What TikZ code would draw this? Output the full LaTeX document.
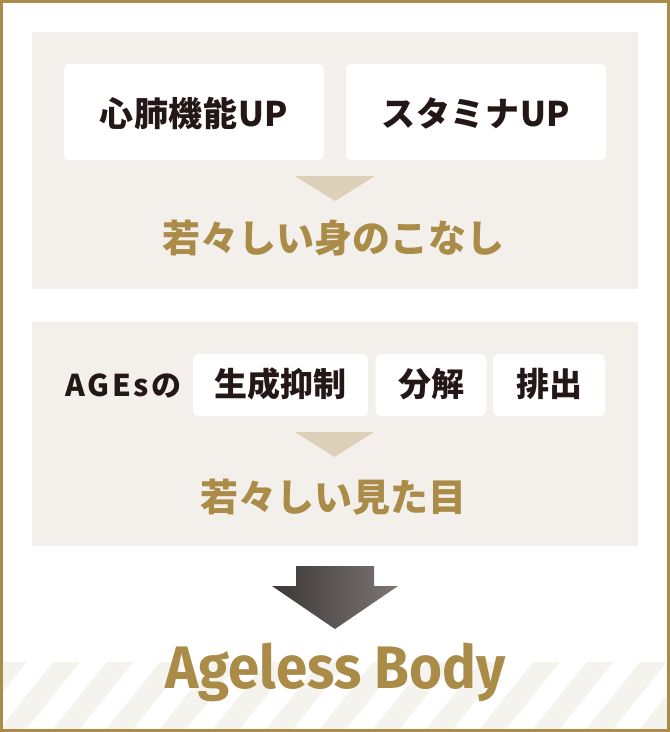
\documentclass[tikz,border=0pt]{standalone}
\usepackage{graphicx}
\usepackage{fontspec}
\newfontfamily\jp{Noto Sans CJK JP}
\newfontfamily\agefont{Fira Sans}
\definecolor{gold}{HTML}{AA8C48}
\definecolor{panel}{HTML}{F3F0EB}
\definecolor{tri}{HTML}{DCD0B9}
\definecolor{dark}{HTML}{231815}
\definecolor{stripe}{HTML}{F5F3EE}
\definecolor{arrowL}{HTML}{3B3737}
\definecolor{arrowR}{HTML}{7D7674}
\tikzset{
  wbox/.style={fill=white, draw=none, rounded corners=6pt, inner sep=0pt},
  boxtxt/.style={text=dark, anchor=base, inner sep=0pt, font={\jp\bfseries\fontsize{34pt}{34pt}\selectfont\addfontfeature{LetterSpace=2}}},
  boxtxtb/.style={text=dark, anchor=base, inner sep=0pt, font={\jp\bfseries\fontsize{33pt}{33pt}\selectfont}},
  goldtxt/.style={text=gold, anchor=base, inner sep=0pt, font={\jp\bfseries\fontsize{38pt}{38pt}\selectfont}},
  panelbg/.style={fill=panel, draw=none, inner sep=0pt},
  tritip/.style={fill=tri, draw=none}
}
\begin{document}
\begin{tikzpicture}[x=1pt,y=-1pt]
\useasboundingbox (0,0) rectangle (670,732);
\fill[white] (0,0) rectangle (670,732);
% stripes
\begin{scope}
\clip (0,662) rectangle (670,732);
\foreach \k in {-2,...,14} {
  \fill[stripe] ({53.33*\k},662) -- ({53.33*\k+26.67},662) -- ({53.33*\k+26.67-53.6},729) -- ({53.33*\k-53.6},729) -- cycle;
}
\end{scope}
% panels
\node[panelbg, minimum width=606pt, minimum height=257pt] (p1) at (335,160.5) {};
\node[panelbg, minimum width=606pt, minimum height=224pt] (p2) at (335,434) {};
% top boxes
\node[wbox, minimum width=260pt, minimum height=96pt] (b1) at (194,112) {};
\node[wbox, minimum width=260pt, minimum height=96pt] (b2) at (476,112) {};
\node[boxtxt] (t1) at (194,126) {心肺機能UP};
\node[boxtxt] (t2) at (476,126) {スタミナUP};
\fill[tritip] (295,176) -- (375,176) -- (335,201) -- cycle;
\node[goldtxt] (g1) at (333.5,252) {若々しい身のこなし};
% second panel
\node[wbox, minimum width=175pt, minimum height=62pt] (c1) at (280.5,385) {};
\node[wbox, minimum width=111pt, minimum height=62pt] (c2) at (431,385) {};
\node[wbox, minimum width=112pt, minimum height=62pt] (c3) at (549,385) {};
\node[text=dark, anchor=base, inner sep=0pt, font={\jp\bfseries\fontsize{30pt}{30pt}\selectfont\addfontfeature{LetterSpace=8}}] (ages) at (123.5,396) {AGEsの};
\node[boxtxtb] (u1) at (280.5,396) {生成抑制};
\node[boxtxtb] (u2) at (431,396) {分解};
\node[boxtxtb] (u3) at (549,396) {排出};
\fill[tritip] (295,432) -- (374,432) -- (334.5,457) -- cycle;
\node[goldtxt] (g2) at (333.5,511) {若々しい見た目};
% big arrow
\shade[left color=arrowL, right color=arrowR] (296,566) -- (374,566) -- (374,586) -- (398,586) -- (335,629) -- (272,586) -- (296,586) -- cycle;
\node[text=gold, anchor=base, inner sep=0pt, font={\agefont\bfseries\fontsize{60pt}{60pt}\selectfont}] (ab) at (335.5,688) {\scalebox{0.94}[1]{Ageless Body}};
% border
\draw[gold, line width=3pt] (1.5,1.5) rectangle (668.5,730.5);
\end{tikzpicture}
\end{document}
